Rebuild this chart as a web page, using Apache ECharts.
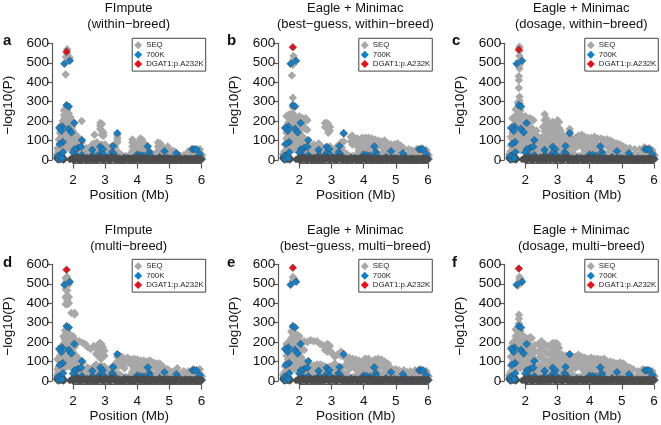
<!DOCTYPE html>
<html><head><meta charset="utf-8">
<style>html,body{margin:0;padding:0;background:#fff}#c{width:661px;height:425px}</style>
<script src="https://cdn.jsdelivr.net/npm/echarts@6/dist/echarts.min.js"></script>
</head><body><div id="c"></div>
<script>
// Columns: [position (Mb), -log10(P), -log10(P), ...]
const seqLow = [[1.5,10,30],[1.54,45,25],[2.05,25,42],[2.15,30,50],[2.25,28,45],[2.35,35,22],[2.45,30,48],[2.55,25,44],[2.65,38,22],[2.75,30,48],[2.85,25,45],[2.95,35,22],[3.05,30,46],[3.15,25,42],[3.25,35,50],[3.35,28,44],[3.45,22,35],[3.55,22],[3.65,20],[3.75,24],[3.85,30,48],[3.95,32,50],[4.05,28,45],[4.15,35,50],[4.25,30,46],[4.35,38,22],[4.45,25,35],[4.55,28],[4.65,35,48],[4.75,30,45],[4.85,28,42],[4.95,30,45],[5.05,25,38],[5.15,28,40],[5.25,30],[5.35,22],[5.45,25],[5.55,30],[5.65,35],[5.75,38],[5.85,35],[5.95,38,22],[6.02,25]];
const seqMid = [[2.1,65],[2.2,60,72],[2.32,55],[2.42,62],[2.52,58],[2.62,68],[2.72,60],[2.82,55],[2.92,62],[3.02,55],[3.12,58],[3.22,60],[3.32,65],[3.92,60],[4.02,62],[4.12,65],[4.22,60],[4.32,55],[4.72,55],[4.82,52],[4.92,55],[5.02,50],[5.12,48]];
const seqCloud = [[1.62,75,155],[1.66,145,100],[1.7,185,125,95,65],[1.74,215,150,90],[1.79,225,175,125],[1.84,185,125,95],[1.89,165,105],[1.94,145,85],[1.99,150,115,85],[2.05,125,95,65],[2.12,105,75]];
const seqA = [[1.77,440],[1.82,570,545],[1.78,530],[1.86,530],[1.9,525],[1.52,60,25],[1.56,105,65,35],[1.6,170,140,110,80],[1.64,180,130,100,55],[1.68,200,160,120,80,60],[1.72,255,230,200,170,140,110,80,50],[1.77,265,245,220,190,160,130,100,70],[1.82,260,230,200,170,140,110,80],[1.87,240,210,180,150,120,90,60],[1.92,220,190,160,130,100,70],[1.97,200,170,130,100,70],[2.02,140,110,80,50],[2.1,120,90,60],[2.15,120,100,70],[2.2,80,50],[2.27,200,90],[2.3,60],[2.42,50],[2.6,80,60],[2.67,130,85,70],[2.75,90,70,55],[2.82,75],[2.85,190,175,160],[2.9,185,150,130,80],[2.95,140,125,75],[3.0,80],[3.05,70],[3.2,70,50],[3.3,60],[3.38,130,115,100,90],[3.85,105,90,70],[3.95,85,70],[4.05,90,60],[4.1,110,90],[4.15,105,75],[4.2,90,60],[4.3,70],[4.65,90,70],[4.72,85,60],[4.8,65],[4.95,70,50],[5.2,40],[5.6,45],[5.7,55],[5.95,55]];
const seqB = [[1.77,435],[1.8,490],[1.82,535,515],[1.8,320],[1.55,165,80,40],[1.6,225,170,140,110,75],[1.65,230,190,150,120,85,50],[1.7,235,195,160,125,90,60],[1.75,230,200,170,135,100,70],[1.8,270,240,215,180,145,110,75],[1.85,225,190,150,115,80,55],[1.9,215,185,145,110,75],[1.95,210,175,135,100,70],[2.0,225,185,150,110,80],[2.05,205,170,130,90,60],[2.1,215,180,120,85,55],[2.15,200,165,110,75],[2.2,215,160,105,70],[2.25,205,155,90,60],[2.35,55],[2.45,80,55],[2.6,85,60],[2.7,70],[2.8,190,170,60],[2.85,190,165],[2.9,185,155,140],[2.95,170,150,70],[3.0,60],[3.2,75,55],[3.3,90,60],[3.38,135,95],[3.6,120,95],[3.65,125,100,80],[3.7,115,95],[3.8,110,90,70],[3.85,105,85],[3.95,115,85,65],[4.05,115,90],[4.15,115,85,60],[4.25,110,80],[4.35,105,70],[4.45,100,75],[4.55,95,70],[4.65,100,65],[4.75,85,60],[4.85,80,55],[4.95,80],[5.05,85,60],[5.15,75,50],[5.25,60],[5.4,55],[5.5,50],[5.65,55],[5.8,60],[5.95,50,35]];
const seqC = [[1.82,582,560,535,510,490,470],[1.8,430,410,370],[1.82,325,305,290],[1.77,295,270],[1.55,165,120,75,40],[1.6,215,170,140,105,70],[1.65,220,180,150,115,80,50],[1.7,260,225,190,155,120,85,60],[1.75,265,235,200,165,130,95,65],[1.8,265,235,205,170,135,100,70],[1.85,255,220,185,150,115,80,50],[1.9,225,190,155,120,85,60],[1.95,220,180,145,110,75],[2.0,225,190,150,115,80],[2.05,205,170,130,95,60],[2.1,210,175,140,105,70],[2.15,215,170,130,90],[2.2,205,165,125,85],[2.25,205,150,110,70],[2.35,150,125,95,60],[2.45,115,90,60],[2.55,170,120,85],[2.6,235,205,175,145,110,80],[2.65,215,185,150,120,90],[2.7,195,160,125,95],[2.75,170,140,105,70],[2.8,190,155,125,90],[2.85,195,165,135,100],[2.9,180,150,115,85],[2.95,185,155,125,95],[3.0,205,170,135,100],[3.05,195,165,125,85],[3.1,150,115,85],[3.2,125,90,60],[3.3,105,80],[3.38,160,145,120,90],[3.45,110,75],[3.55,115,90,60],[3.65,125,100,75],[3.75,130,100,70],[3.85,120,90],[3.95,115,85,60],[4.05,115,90,65],[4.15,120,85],[4.25,110,80,60],[4.35,110,75],[4.45,105,80],[4.55,105,70],[4.65,100,75],[4.75,90,60],[4.85,85,60],[4.95,80,55],[5.05,70,50],[5.15,60],[5.25,60],[5.4,55],[5.55,55],[5.7,65,50],[5.85,60],[5.95,50]];
const seqD = [[1.82,535,515,490,465,440,415,395],[1.77,530,470,430,395],[1.87,500,430,400],[1.95,350],[2.05,350,342],[1.52,110,60,25],[1.56,120,75,40],[1.6,165,130,100,70],[1.65,180,140,105,60],[1.7,230,190,150,110,75],[1.75,260,225,190,150,110,70],[1.8,265,230,195,155,115,75],[1.85,250,215,175,135,95],[1.9,230,195,155,115,75],[1.95,210,170,130,90],[2.0,230,185,140,100],[2.05,215,175,125,80],[2.1,190,130,85],[2.2,205,110,70],[2.3,195,95],[2.38,190,60],[2.45,175,70],[2.55,165,60],[2.65,180,75],[2.72,170,140,85],[2.78,180,155,130,70],[2.83,195,170,145,120],[2.88,190,165,140,115,80],[2.93,175,150,125],[2.98,155,130,75],[3.2,70],[3.3,85],[3.38,125,100],[3.45,130,110,80],[3.52,125,100],[3.6,115,90,65],[3.7,120,95],[3.8,110,85],[3.9,115,85,65],[4.0,110,85],[4.1,105,80],[4.2,105,75],[4.3,100,70],[4.4,105,80],[4.5,95,70],[4.6,90,65],[4.7,90,60],[4.8,75,55],[4.95,60],[5.25,65,45],[5.45,50],[5.6,50],[5.75,60],[5.95,60]];
const seqE = [[1.8,535,515],[1.85,525],[1.55,165,75,40],[1.6,190,165,130,90],[1.65,195,150,110,70],[1.7,200,160,125,90,60],[1.75,255,220,175,130,90],[1.8,275,240,200,160,120,80],[1.85,245,210,165,125,85,60],[1.9,225,190,150,110,75],[1.95,235,200,140,100,70],[2.0,230,190,130,90],[2.05,200,170,115,75],[2.15,205,160,100,65],[2.25,200,95,60],[2.35,210,75],[2.45,205,80],[2.55,205,85,60],[2.65,190,85,60],[2.72,185,80],[2.8,180,160,75],[2.88,190,175,150],[2.95,180,155,75],[3.0,145,60],[3.1,125,90,55],[3.18,135],[3.3,150,130,70],[3.45,115,85],[3.55,120,90,60],[3.65,115,85],[3.75,110,80,60],[3.85,105,80],[3.95,100,70],[4.05,115,90],[4.15,115,85],[4.25,100,70],[4.35,110,80],[4.45,115,85,60],[4.55,110,80],[4.65,100,70],[4.75,90,60],[4.85,65],[5.0,60],[5.1,55],[5.25,55],[5.35,45],[5.45,50],[5.6,55],[5.75,60],[5.95,50,35]];
const seqF = [[1.82,535,520,500],[1.77,490],[1.86,525],[1.8,340,320],[1.55,170,125,80,40],[1.6,195,165,130,95,60],[1.65,205,170,135,100,65],[1.7,265,230,190,150,110,70],[1.75,270,235,200,160,120,80],[1.8,295,265,230,190,150,110,70],[1.85,255,220,180,140,100,65],[1.9,235,200,160,120,80],[1.95,225,190,150,110,75],[2.0,225,185,145,105,70],[2.05,215,180,140,100,65],[2.1,210,170,130,90],[2.15,225,185,145,105,70],[2.2,220,175,135,95,60],[2.3,185,150,110,70],[2.4,190,150,115,75],[2.5,205,165,125,85],[2.6,190,150,110,70],[2.7,180,140,100,65],[2.78,175,140,105,70],[2.85,195,170,135,100],[2.9,185,155,120,85],[2.95,195,165,130,90],[3.0,190,150,115,80],[3.05,170,130,95,60],[3.15,135,105,70],[3.25,130,95,60],[3.35,115,85],[3.45,125,95,65],[3.55,125,95,65],[3.65,135,105,75],[3.75,125,95,65],[3.85,120,90,60],[3.95,115,85,55],[4.05,120,90,60],[4.15,115,85,60],[4.25,115,85,60],[4.35,110,80,55],[4.45,115,85,60],[4.55,100,75,55],[4.65,100,70,50],[4.75,95,70,50],[4.85,90,65],[4.95,95,65],[5.05,90,65],[5.15,75,50],[5.25,70,50],[5.35,60],[5.5,50],[5.65,60],[5.8,55],[5.95,50,35]];
const darkLeft = [[1.5,6,14],[1.54,0,18],[1.58,8,24],[1.62,2,14],[1.66,6,20],[1.7,0,12],[1.74,5],[1.9,3],[1.94,6]];
const darkBand = [[1.98,2,9],[2.02,8,0],[2.06,0,10],[2.1,6,14],[2.14,12,3],[2.18,2,9],[2.22,8,0],[2.26,0,10],[2.3,12,4],[2.34,4,10],[2.38,8,1],[2.42,0,9],[2.46,10,3],[2.5,2,9],[2.54,7,0],[2.58,14,5],[2.62,0,9],[2.66,8,2],[2.7,3,10],[2.74,12,2],[2.78,0,8],[2.82,7,12],[2.86,15,4],[2.9,2,9],[2.94,9,0],[2.98,0,8],[3.02,6,11],[3.06,12,2],[3.1,2,8],[3.14,8,0],[3.18,0,9],[3.22,15,5],[3.26,5,11],[3.3,10,1],[3.34,0,8],[3.38,7,2],[3.42,2,8],[3.46,5,0],[3.5,0,7],[3.54,6,1],[3.58,2,8],[3.62,8,0],[3.66,0,7],[3.7,6,10],[3.74,10,2],[3.78,1,8],[3.82,8,0],[3.86,3,9],[3.9,10,1],[3.94,0,8],[3.98,14,4],[4.02,4,10],[4.06,10,1],[4.1,0,9],[4.14,12,3],[4.18,3,9],[4.22,8,0],[4.26,0,9],[4.3,12,3],[4.34,3,9],[4.38,9,0],[4.42,0,8],[4.46,7,2],[4.5,2,8],[4.54,6,0],[4.58,0,7],[4.62,8,2],[4.66,2,9],[4.7,10,1],[4.74,0,8],[4.78,7,2],[4.82,3,9],[4.86,10,1],[4.9,0,7],[4.94,6,1],[4.98,2,8],[5.02,8,0],[5.06,0,7],[5.1,6,1],[5.14,2,8],[5.18,9,0],[5.22,0,8],[5.26,7,2],[5.3,2,8],[5.34,6,0],[5.38,0,7],[5.42,5,1],[5.46,2,8],[5.5,6,0],[5.54,0,7],[5.58,7,1],[5.62,2,8],[5.66,8,0],[5.7,0,7],[5.74,7,2],[5.78,2,8],[5.82,9,0],[5.86,0,7],[5.9,7,1],[5.94,2,8],[5.98,8,0]];
const snp700k = [[1.53,20],[1.56,5],[1.6,18],[1.63,8],[1.66,10],[1.69,40],[1.68,92],[1.585,82],[1.66,172],[1.57,165],[1.64,150],[1.73,495],[1.9,510],[1.8,282],[1.87,275],[1.865,160],[1.95,142],[2.04,190],[2.28,102],[2.15,62],[2.25,68],[2.05,55],[2.0,38],[2.1,25],[2.03,15],[2.12,10],[2.28,25],[2.45,10],[2.6,52],[2.62,25],[2.55,15],[2.85,68],[2.93,55],[2.85,35],[2.78,18],[2.95,28],[3.05,10],[3.25,72],[3.22,40],[3.27,30],[3.3,15],[3.12,12],[3.38,138],[3.45,8],[3.6,12],[3.75,5],[3.95,12],[4.0,28],[4.1,25],[4.2,22],[4.33,70],[4.38,40],[4.4,25],[4.22,8],[4.55,5],[4.7,15],[4.85,45],[4.95,10],[5.05,8],[5.22,35],[5.3,15],[5.5,8],[5.72,55],[5.78,55],[5.85,55],[5.95,30],[6.02,5]];
const redPoints = [[1.8,557],[1.8,580],[1.8,568],[1.8,572],[1.8,582],[1.8,578]];
const seqByPanel = [seqA, seqB, seqC, seqD, seqE, seqF];
const titles = ['FImpute\n(within\u2212breed)','Eagle + Minimac\n(best\u2212guess, within\u2212breed)','Eagle + Minimac\n(dosage, within\u2212breed)','FImpute\n(multi\u2212breed)','Eagle + Minimac\n(best\u2212guess, multi\u2212breed)','Eagle + Minimac\n(dosage, multi\u2212breed)'];
const letters = ['a','b','c','d','e','f'];
const names = ['SEQ','700K','DGAT1:p.A232K'];

const FONT = '"Liberation Sans", Arial, sans-serif';
const lefts = [72.7, 299.3, 525.3], tops = [43.3, 264.3];
const W = 128.7, H = 116.7;
const flat = cols => cols.flatMap(c => c.slice(1).map(y => [c[0], y]));
const grid=[], xAxis=[], yAxis=[], series=[], title=[], legend=[];
const AXC = '#5a5a5a';
const GRAY='#a8a8a8', BLUE='#0f80cc', RED='#ec0f1a';
for (let i=0;i<6;i++){
  const L = lefts[i%3], T = tops[i<3?0:1];
  grid.push({left:L, top:T, width:W, height:H});
  xAxis.push({gridIndex:i,type:'value',min:2,max:6,interval:1,offset:3.5,splitLine:{show:false},
    axisLine:{onZero:false,lineStyle:{color:AXC,width:1.2}},axisTick:{length:5,lineStyle:{color:AXC,width:1.2}},
    axisLabel:{color:'#111',fontSize:13.5,fontFamily:FONT,margin:10},
    name:'Position (Mb)',nameLocation:'middle',nameGap:25,nameMoveOverlap:false,nameTextStyle:{color:'#111',fontSize:13.5,fontFamily:FONT,padding:[0,16,0,0]}});
  yAxis.push({gridIndex:i,type:'value',min:0,max:600,interval:100,offset:21,splitLine:{show:false},
    axisLine:{onZero:false,lineStyle:{color:AXC,width:1.2}},axisTick:{length:5,lineStyle:{color:AXC,width:1.2}},
    axisLabel:{color:'#111',fontSize:13.5,fontFamily:FONT,margin:3},
    name:'\u2212log10(P)',nameLocation:'middle',nameGap:37,nameRotate:90,nameMoveOverlap:false,nameTextStyle:{color:'#111',fontSize:13.5,fontFamily:FONT,padding:[0,7,0,0]}});
  const base = {xAxisIndex:i,yAxisIndex:i,type:'scatter',clip:false,symbol:'diamond',animation:false,silent:true};
  series.push({...base,name:names[0],symbolSize:8.5,data:flat(seqLow).concat(flat(seqMid),flat(seqCloud),flat(seqByPanel[i])),itemStyle:{color:GRAY,opacity:1},z:2});
  series.push({...base,name:'bandLeft',symbolSize:7.5,data:flat(darkLeft),itemStyle:{color:'#4d4d4d',opacity:1},z:2.5});
  series.push({...base,name:names[1],symbolSize:7.6,data:snp700k,itemStyle:{color:BLUE,borderColor:'#4a4a4a',borderWidth:.6,opacity:1},z:3});
  series.push({...base,name:'band',symbolSize:7.5,data:flat(darkBand),itemStyle:{color:'#4d4d4d',opacity:1},z:4});
  series.push({...base,name:names[2],symbolSize:7.6,data:[redPoints[i]],itemStyle:{color:RED,borderColor:'#4a4a4a',borderWidth:.6,opacity:1},z:5});
  const cx = L + 56;
  title.push({text:titles[i],left:cx,top:(i<3?0:222),textAlign:'center',padding:0,
    textStyle:{fontSize:13,fontWeight:'normal',color:'#111',fontFamily:FONT,lineHeight:16}});
  title.push({text:letters[i],left:[3,227,452][i%3],top:(i<3?33:255),padding:0,
    textStyle:{fontSize:15,fontWeight:'bold',color:'#111',fontFamily:FONT}});
  legend.push({show:true,data:[
      {name:names[0],itemStyle:{color:GRAY,borderWidth:0}},
      {name:names[1],itemStyle:{color:BLUE,borderWidth:0}},
      {name:names[2],itemStyle:{color:RED,borderWidth:0}}],
    left:L+59.5,top:T-5,orient:'vertical',itemWidth:8,itemHeight:8,itemGap:1.4,padding:[3,2,3,2],
    borderColor:'#444',borderWidth:1,selectedMode:false,icon:'diamond',backgroundColor:'#fff',
    textStyle:{fontSize:7.8,color:'#222',fontFamily:FONT,padding:[0,0,0,-1]}});
}
const chart = echarts.init(document.getElementById('c'),null,{renderer:'canvas'});
chart.setOption({animation:false,backgroundColor:'#fff',grid,xAxis,yAxis,series,title,legend,tooltip:{show:false}});
</script></body></html>
